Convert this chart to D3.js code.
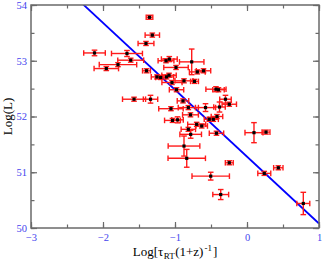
<!DOCTYPE html>
<html><head><meta charset="utf-8">
<script src="https://cdn.jsdelivr.net/npm/d3@7"></script>
<style>body{margin:0;background:#fff}svg{display:block}</style>
</head><body>
<svg id="c" width="323" height="263"></svg>
<script>
const xVals = [-1.354,-1.315,-1.403,-2.118,-1.667,-1.615,-1.792,-1.954,-1.396,-1.25,-1.199,-1.125,-1.079,-0.986,-0.768,-0.690,-0.604,-1.118,-1.083,-1.042,-0.875,-0.729,-0.979,-0.431,-0.396,-0.299,-0.246,-1.569,-1.340,-0.889,-1.056,-0.815,-0.576,-0.382,-0.785,-1.035,-0.965,-0.699,-0.629,-0.524,-0.468,-0.417,-0.815,-0.782,-0.424,-0.875,-0.837,-0.246,-0.504,-0.365,0.097,0.264,0.435,0.240,0.782];
const yVals = [53.78,53.46,53.31,53.14,53.13,53.01,52.93,52.86,52.82,52.71,52.70,53.00,53.03,52.88,52.98,52.80,52.82,52.71,52.74,52.61,52.64,52.63,52.48,52.49,52.48,52.31,52.22,52.31,52.31,52.28,52.14,52.16,52.16,52.17,52.03,51.93,51.94,51.86,51.83,51.95,51.95,52.00,51.77,51.68,51.70,51.47,51.25,51.17,50.93,50.60,51.71,51.72,51.08,50.98,50.44];
const xErr = [0.046,0.10,0.11,0.15,0.215,0.18,0.26,0.17,0.055,0.08,0.07,0.11,0.11,0.17,0.17,0.11,0.10,0.1,0.1,0.14,0.125,0.055,0.1,0.14,0.08,0.08,0.1,0.16,0.10,0.08,0.17,0.14,0.14,0.08,0.11,0.11,0.08,0.125,0.08,0.07,0.07,0.08,0.1,0.15,0.1,0.22,0.26,0.055,0.26,0.11,0.125,0.055,0.065,0.09,0.09];
const yErr = [0.036,0.036,0.036,0.05,0.054,0.036,0.036,0.036,0.036,0.036,0.036,0.036,0.045,0.036,0.23,0.036,0.036,0.036,0.036,0.036,0.036,0.036,0.036,0.045,0.036,0.07,0.036,0.036,0.07,0.036,0.036,0.036,0.07,0.09,0.036,0.036,0.054,0.036,0.036,0.036,0.036,0.036,0.036,0.07,0.036,0.18,0.16,0.036,0.07,0.09,0.18,0.036,0.036,0.036,0.2];
const fitIntercept = 51.28;
const fitSlope = -1.2;
const xTicks = [-3,-2,-1,0,1];
const yTicks = [50,51,52,53,54];
const xDomain = [-3,1];
const yDomain = [50,54];

const svg = d3.select("#c");
const L=31,R=319,T=5,B=228;
const x = d3.scaleLinear().domain(xDomain).range([L,R]);
const y = d3.scaleLinear().domain(yDomain).range([B,T]);

svg.append("defs").append("clipPath").attr("id","clip")
  .append("rect").attr("x",L).attr("y",T).attr("width",R-L).attr("height",B-T);

// fit line
const fitPts = xDomain.map(v=>[v, fitIntercept+fitSlope*v]);
svg.append("path").attr("clip-path","url(#clip)")
  .attr("d", d3.line().x(d=>x(d[0])).y(d=>y(d[1]))(fitPts))
  .attr("stroke","#0000ff").attr("stroke-width",1.8).attr("fill","none");

// error bars
const pts = xVals.map((v,i)=>({x:v,y:yVals[i],xe:xErr[i],ye:yErr[i]}));
const eg = svg.append("g").attr("stroke","#ff1a1a").attr("stroke-width",1.4).attr("fill","none");
const cap=2.8;
pts.forEach(p=>{
  const cx=x(p.x), cy=y(p.y), x0=x(p.x-p.xe), x1=x(p.x+p.xe), y0=y(p.y-p.ye), y1=y(p.y+p.ye);
  eg.append("line").attr("x1",x0).attr("x2",x1).attr("y1",cy).attr("y2",cy);
  eg.append("line").attr("x1",x0).attr("x2",x0).attr("y1",cy-cap).attr("y2",cy+cap);
  eg.append("line").attr("x1",x1).attr("x2",x1).attr("y1",cy-cap).attr("y2",cy+cap);
  eg.append("line").attr("x1",cx).attr("x2",cx).attr("y1",y0).attr("y2",y1);
  eg.append("line").attr("x1",cx-cap).attr("x2",cx+cap).attr("y1",y0).attr("y2",y0);
  eg.append("line").attr("x1",cx-cap).attr("x2",cx+cap).attr("y1",y1).attr("y2",y1);
});
svg.append("g").selectAll("rect").data(pts).join("rect")
  .attr("x",d=>x(d.x)-1.6).attr("y",d=>y(d.y)-1.6).attr("width",3.2).attr("height",3.2).attr("fill","#000");

// axes
const axCol="#6a6a6a";
const minorX = d3.range(-3,1.001,0.5), minorY = d3.range(50,54.001,0.5);
function styleAxis(g){
  g.selectAll(".domain").remove();
  g.selectAll(".tick line").attr("stroke",axCol).attr("stroke-width",1.2);
  g.selectAll("text").attr("fill","#4444ee").attr("font-family","'Liberation Serif', serif").attr("font-size",10.5);
}
svg.append("g").attr("transform",`translate(0,${B})`).call(d3.axisBottom(x).tickValues(minorX).tickSize(-3.5).tickFormat("")).call(styleAxis);
svg.append("g").attr("transform",`translate(0,${B})`).call(d3.axisBottom(x).tickValues(xTicks).tickSize(-6).tickPadding(6).tickFormat(d3.format("d"))).call(styleAxis);
svg.append("g").attr("transform",`translate(0,${T})`).call(d3.axisTop(x).tickValues(minorX).tickSize(-3.5).tickFormat("")).call(styleAxis);
svg.append("g").attr("transform",`translate(0,${T})`).call(d3.axisTop(x).tickValues(xTicks).tickSize(-6).tickFormat("")).call(styleAxis);
svg.append("g").attr("transform",`translate(${L},0)`).call(d3.axisLeft(y).tickValues(minorY).tickSize(-3.5).tickFormat("")).call(styleAxis);
svg.append("g").attr("transform",`translate(${L},0)`).call(d3.axisLeft(y).tickValues(yTicks).tickSize(-6).tickPadding(4).tickFormat(d3.format("d"))).call(styleAxis);
svg.append("g").attr("transform",`translate(${R},0)`).call(d3.axisRight(y).tickValues(minorY).tickSize(-3.5).tickFormat("")).call(styleAxis);
svg.append("g").attr("transform",`translate(${R},0)`).call(d3.axisRight(y).tickValues(yTicks).tickSize(-6).tickFormat("")).call(styleAxis);
svg.append("rect").attr("x",L).attr("y",T).attr("width",R-L).attr("height",B-T)
  .attr("fill","none").attr("stroke",axCol).attr("stroke-width",1.5);

// titles
const xt = svg.append("text").attr("x",(L+R)/2).attr("y",256).attr("text-anchor","middle")
  .attr("font-family","'Liberation Serif', serif").attr("font-size",13).attr("fill","#000");
xt.append("tspan").text("Log[τ");
xt.append("tspan").attr("font-size",9).attr("dy",3).attr("dx",0.5).text("RT");
xt.append("tspan").attr("dy",-3).attr("dx",0.5).text("(1+z)");
xt.append("tspan").attr("font-size",9).attr("dy",-5).attr("dx",1).text("-1");
xt.append("tspan").attr("dy",5).attr("dx",1).text("]");
svg.append("text").attr("transform",`translate(12,${(T+B)/2}) rotate(-90)`).attr("text-anchor","middle")
  .attr("font-family","'Liberation Serif', serif").attr("font-size",13).attr("fill","#000").text("Log(L)");
</script>
</body></html>
